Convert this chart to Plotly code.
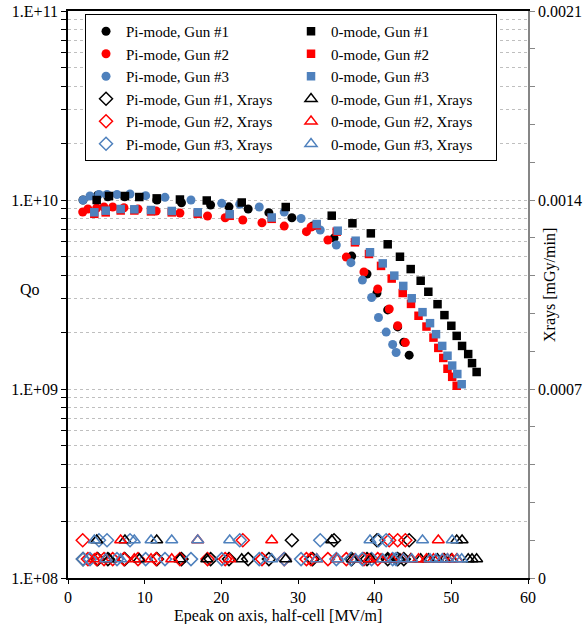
import plotly.graph_objects as go

# ---------------- data ----------------
pi1_x = [1.96, 3.87, 5.2, 7.4, 11.6, 14.8, 18.6, 21.0, 23.5, 26.2, 29.2, 31.9, 34.7, 37.0, 39.0, 40.3, 41.7, 43.0, 43.8, 44.5]
pi1_q = [1.0e10, 1.06e10, 1.04e10, 1.04e10, 1.0e10, 9.67e9, 9.41e9, 9.2e9, 8.96e9, 8.57e9, 8.06e9, 7.28e9, 6.29e9, 5.05e9, 4.06e9, 3.22e9, 2.62e9, 2.13e9, 1.77e9, 1.51e9]
pi1_xr = [7e-5, 7e-5, 7e-5, 7e-5, 7e-5, 7e-5, 7e-5, 7e-5, 7e-5, 7e-5, 1.4e-4, 7e-5, 1.4e-4, 7e-5, 7e-5, 1.4e-4, 7e-5, 7e-5, 7e-5, 1.4e-4]

pi2_x = [1.92, 2.6, 3.74, 4.7, 5.83, 7.3, 9.13, 11.5, 14.6, 18.2, 20.5, 22.8, 25.3, 28.2, 31.1, 31.7, 33.9, 36.3, 38.6, 40.4, 41.9, 43.0, 44.0]
pi2_q = [8.64e9, 8.96e9, 9.07e9, 9.18e9, 9.18e9, 9.1e9, 8.96e9, 8.75e9, 8.54e9, 8.23e9, 8.06e9, 7.84e9, 7.58e9, 7.28e9, 6.80e9, 7.2e9, 6.14e9, 4.99e9, 4.16e9, 3.38e9, 2.65e9, 2.16e9, 1.76e9]
pi2_xr = [1.4e-4, 7e-5, 7e-5, 7e-5, 7e-5, 7e-5, 7e-5, 7e-5, 7e-5, 7e-5, 7e-5, 1.4e-4, 7e-5, 7e-5, 7e-5, 7e-5, 7e-5, 7e-5, 7e-5, 7e-5, 1.4e-4, 1.4e-4, 1.4e-4]

pi3_x = [1.96, 2.87, 4.04, 5.09, 6.39, 8.09, 10.13, 12.65, 16.04, 20.05, 22.4, 24.95, 28.2, 30.4, 32.9, 35.0, 36.9, 38.4, 39.6, 40.5, 41.5, 42.35, 42.8]
pi3_q = [1.0e10, 1.05e10, 1.07e10, 1.07e10, 1.07e10, 1.076e10, 1.054e10, 1.033e10, 1.0e10, 9.6e9, 9.5e9, 9.18e9, 8.64e9, 7.98e9, 6.94e9, 5.78e9, 4.66e9, 3.77e9, 3.05e9, 2.39e9, 2.0e9, 1.72e9, 1.56e9]
pi3_xr = [7e-5, 7e-5, 1.4e-4, 1.4e-4, 7e-5, 1.4e-4, 7e-5, 7e-5, 7e-5, 7e-5, 1.4e-4, 7e-5, 7e-5, 7e-5, 1.4e-4, 7e-5, 7e-5, 7e-5, 7e-5, 1.4e-4, 1.4e-4, 7e-5, 7e-5]

z1_x = [3.74, 5.35, 7.43, 9.3, 11.57, 14.6, 18.1, 22.66, 28.4, 34.4, 37.1, 39.5, 41.7, 43.3, 44.7, 46.0, 47.0, 48.2, 49.1, 50.0, 50.7, 51.4, 52.2, 52.7, 53.3]
z1_q = [1.0e10, 1.05e10, 1.05e10, 1.037e10, 1.02e10, 1.006e10, 9.94e9, 9.7e9, 9.18e9, 8.26e9, 7.53e9, 6.66e9, 5.83e9, 5.01e9, 4.31e9, 3.74e9, 3.27e9, 2.81e9, 2.46e9, 2.16e9, 1.91e9, 1.69e9, 1.53e9, 1.37e9, 1.23e9]
z1_xr = [1.4e-4, 7e-5, 1.4e-4, 7e-5, 1.4e-4, 7e-5, 7e-5, 7e-5, 7e-5, 1.4e-4, 7e-5, 7e-5, 7e-5, 7e-5, 7e-5, 7e-5, 7e-5, 7e-5, 7e-5, 7e-5, 1.4e-4, 1.4e-4, 7e-5, 7e-5, 7e-5]

z2_x = [3.43, 4.92, 6.87, 8.65, 10.83, 13.53, 16.92, 21.09, 26.57, 32.44, 35.05, 37.43, 39.26, 40.83, 42.22, 43.66, 44.74, 45.72, 46.76, 47.67, 48.3, 48.95, 49.5, 50.11, 50.7]
z2_q = [8.45e9, 8.6e9, 8.8e9, 8.8e9, 8.7e9, 8.6e9, 8.45e9, 8.25e9, 7.95e9, 7.35e9, 6.80e9, 5.97e9, 5.18e9, 4.48e9, 3.84e9, 3.22e9, 2.82e9, 2.44e9, 2.14e9, 1.87e9, 1.65e9, 1.46e9, 1.28e9, 1.16e9, 1.04e9]
z2_xr = [7e-5, 7e-5, 1.4e-4, 7e-5, 7e-5, 7e-5, 1.4e-4, 7e-5, 1.4e-4, 7e-5, 7e-5, 7e-5, 7e-5, 7e-5, 7e-5, 7e-5, 7e-5, 7e-5, 7e-5, 7e-5, 1.4e-4, 7e-5, 7e-5, 7e-5, 7e-5]

z3_x = [3.43, 4.92, 6.87, 8.65, 10.83, 13.53, 16.92, 21.09, 26.57, 32.44, 35.18, 37.52, 39.39, 41.05, 42.56, 43.73, 44.83, 46.24, 47.22, 48.0, 48.81, 49.5, 50.11, 50.78, 51.35]
z3_q = [8.61e9, 8.78e9, 8.96e9, 8.93e9, 8.85e9, 8.75e9, 8.61e9, 8.41e9, 8.08e9, 7.46e9, 6.88e9, 6.09e9, 5.29e9, 4.62e9, 3.98e9, 3.51e9, 3.02e9, 2.55e9, 2.23e9, 1.95e9, 1.69e9, 1.50e9, 1.33e9, 1.20e9, 1.06e9]
z3_xr = [1.4e-4, 7e-5, 7e-5, 1.4e-4, 1.4e-4, 1.4e-4, 1.4e-4, 1.4e-4, 7e-5, 7e-5, 7e-5, 7e-5, 1.4e-4, 7e-5, 7e-5, 7e-5, 7e-5, 1.4e-4, 7e-5, 7e-5, 7e-5, 7e-5, 1.4e-4, 7e-5, 7e-5]

names_q = ["Pi-mode, Gun #1", "Pi-mode, Gun #2", "Pi-mode, Gun #3", "0-mode, Gun #1", "0-mode, Gun #2", "0-mode, Gun #3"]
names_x = ["Pi-mode, Gun #1, Xrays", "Pi-mode, Gun #2, Xrays", "Pi-mode, Gun #3, Xrays", "0-mode, Gun #1, Xrays", "0-mode, Gun #2, Xrays", "0-mode, Gun #3, Xrays"]

y_tickvals = [m * 10 ** e for e in (8, 9, 10) for m in range(1, 10)] + [1e11]
y_ticklabels = {1e8: "1.E+08", 1e9: "1.E+09", 1e10: "1.E+10", 1e11: "1.E+11"}
y2_tickvals = [i * 0.00014 for i in range(16)]
y2_ticklabels = {0: "0", 5: "0.0007", 10: "0.0014", 15: "0.0021"}
x_tickvals = [0, 10, 20, 30, 40, 50, 60]

# ---------------- styles ----------------
BLACK = "#000000"
RED = "#FF0000"
BLUE = "#4F81BD"
FONT = "Liberation Serif"

series = [
    (pi1_x, pi1_q, pi1_xr, BLACK, "circle", "diamond-open"),
    (pi2_x, pi2_q, pi2_xr, RED, "circle", "diamond-open"),
    (pi3_x, pi3_q, pi3_xr, BLUE, "circle", "diamond-open"),
    (z1_x, z1_q, z1_xr, BLACK, "square", "triangle-up-open"),
    (z2_x, z2_q, z2_xr, RED, "square", "triangle-up-open"),
    (z3_x, z3_q, z3_xr, BLUE, "square", "triangle-up-open"),
]
# legend rank: row-major two columns (Pi in left column, 0-mode in right)
rank_q = [1, 3, 5, 2, 4, 6]
rank_x = [7, 9, 11, 8, 10, 12]

fig = go.Figure()
for i, (xs, qs, xr, col, sym, xsym) in enumerate(series):
    fig.add_trace(go.Scatter(
        x=xs, y=qs, mode="markers", name=names_q[i], legendrank=rank_q[i],
        marker=dict(color=col, symbol=sym, size=9 if sym == "circle" else 8.5, line=dict(width=0)),
    ))
for i, (xs, qs, xr, col, sym, xsym) in enumerate(series):
    fig.add_trace(go.Scatter(
        x=xs, y=xr, mode="markers", name=names_x[i], legendrank=rank_x[i], yaxis="y2",
        marker=dict(color=col, symbol=xsym, size=10 if "diamond" in xsym else 10.5,
                    line=dict(color=col, width=1.5)),
    ))

fig.update_layout(
    width=587, height=624,
    margin=dict(l=68, r=59, t=11, b=46),
    paper_bgcolor="white", plot_bgcolor="white",
    font=dict(family=FONT, size=16, color="black"),
    showlegend=True,
    legend=dict(
        orientation="h", x=0.037, y=0.9947, xanchor="left", yanchor="top",
        bgcolor="white", bordercolor="black", borderwidth=1,
        font=dict(family=FONT, size=15, color="black"),
        entrywidth=160, entrywidthmode="pixels", itemwidth=30,
        traceorder="normal",
    ),
    xaxis=dict(
        range=[0, 60], tickvals=x_tickvals, ticks="outside", ticklen=4, tickcolor="black",
        showline=True, linecolor="black", linewidth=1.5, mirror=True,
        showgrid=False, zeroline=False, tickfont=dict(size=16), automargin=False,
    ),
    yaxis=dict(
        type="log", range=[8, 11], tickvals=y_tickvals,
        ticktext=[y_ticklabels.get(v, "") for v in y_tickvals],
        ticks="outside", ticklen=5, tickcolor="black",
        showline=True, linecolor="black", linewidth=1.5,
        showgrid=True, gridcolor="#BFBFBF", griddash="dot", gridwidth=1,
        zeroline=False, tickfont=dict(size=16), automargin=False,
    ),
    yaxis2=dict(
        overlaying="y", side="right", range=[0, 0.0021], tickvals=y2_tickvals,
        ticktext=[y2_ticklabels.get(i, "") for i in range(16)],
        ticks="outside", ticklen=5, tickcolor="#868686",
        showline=True, linecolor="#868686", linewidth=1.5,
        showgrid=False, zeroline=False, tickfont=dict(size=16), automargin=False,
    ),
    annotations=[
        dict(text="Qo", x=-0.083, y=0.508, xref="paper", yref="paper", showarrow=False,
             xanchor="center", yanchor="middle", font=dict(family=FONT, size=16)),
        dict(text="Xrays [mGy/min]", x=1.048, y=0.517, xref="paper", yref="paper", showarrow=False,
             xanchor="center", yanchor="middle", textangle=-90, font=dict(family=FONT, size=16)),
        dict(text="Epeak on axis, half-cell [MV/m]", x=0.4565, y=-0.0668, xref="paper", yref="paper",
             xanchor="center", yanchor="middle", showarrow=False, font=dict(family=FONT, size=16)),
    ],
)

fig.write_html("out.html")
